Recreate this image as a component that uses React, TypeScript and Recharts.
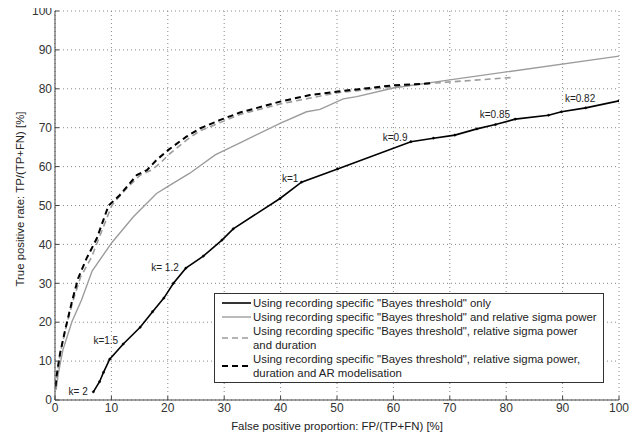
import React from "react";
import { LineChart, Line, XAxis, YAxis, CartesianGrid, Legend, ReferenceDot } from "recharts";

const xTicks = [0, 10, 20, 30, 40, 50, 60, 70, 80, 90, 100];
const yTicks = [0, 10, 20, 30, 40, 50, 60, 70, 80, 90, 100];

const bayesX = [6.8, 7.9, 8.6, 9.7, 12.1, 15.1, 17.3, 19.3, 21.0, 23.2, 26.3, 29.6, 31.6, 39.9, 43.7, 50.1, 63.1, 67.1, 70.9, 74.8, 78.1, 81.6, 87.5, 89.8, 94.1, 100];
const bayesY = [2.1, 4.7, 7.1, 10.5, 14.4, 18.7, 22.7, 26.2, 30.0, 33.9, 37.0, 41.1, 44.0, 51.8, 56.0, 59.4, 66.4, 67.3, 68.1, 69.7, 70.8, 72.2, 73.2, 74.1, 75.1, 76.9];

const sigmaX = [0.2, 0.6, 1.4, 3.0, 4.7, 6.6, 10.1, 13.9, 18.0, 20.1, 23.9, 28.4, 32.8, 39.9, 44.6, 47.0, 51.1, 53.5, 60.0, 70.0, 100];
const sigmaY = [2.6, 6.9, 12.9, 20.1, 25.7, 33.2, 40.5, 47.1, 53.1, 55.0, 58.3, 63.0, 66.1, 71.1, 74.1, 74.7, 77.4, 78.0, 80.2, 82.3, 88.4];

const durX = [0.1, 0.5, 1.0, 2.0, 3.2, 4.5, 6.5, 10.1, 12.7, 15.1, 17.1, 18.6, 20.1, 23.3, 25.7, 32.8, 39.9, 50.1, 60.0, 66.5, 81.0];
const durY = [3.0, 8.0, 12.5, 19.0, 25.5, 31.5, 36.8, 50.1, 54.4, 57.8, 59.1, 60.8, 63.0, 66.8, 69.2, 73.4, 76.1, 79.0, 80.5, 81.4, 82.9];

const arX = [0.1, 0.3, 0.9, 1.8, 3.0, 4.1, 5.6, 7.4, 9.5, 11.5, 14.5, 16.3, 18.0, 20.1, 23.3, 25.7, 29.3, 32.8, 39.9, 45.2, 50.1, 60.0, 66.5];
const arY = [3.5, 6.4, 12.0, 18.0, 25.3, 31.3, 36.4, 41.5, 50.0, 52.7, 57.8, 59.1, 61.7, 64.3, 67.7, 69.8, 72.0, 73.9, 76.7, 78.4, 79.3, 80.9, 81.4];

const kText = ["k= 2", "k=1.5", "k= 1.2", "k=1", "k=0.9", "k=0.85", "k=0.82"];
const kX = [4.1, 9.0, 19.5, 41.7, 60.3, 78.0, 93.1];
const kY = [2.1, 15.2, 34.1, 57.0, 67.4, 73.5, 77.4];

const seriesNames = [
  'Using recording specific "Bayes threshold" only',
  'Using recording specific "Bayes threshold" and relative sigma power',
  'Using recording specific "Bayes threshold", relative sigma power and duration',
  'Using recording specific "Bayes threshold", relative sigma power, duration and AR modelisation',
];

const zip = (xs: number[], ys: number[]) => xs.map((x, i) => ({ x, y: ys[i] }));
const bayesData = zip(bayesX, bayesY);
const sigmaData = zip(sigmaX, sigmaY);
const durData = zip(durX, durY);
const arData = zip(arX, arY);

const FONT = "Arial, 'Liberation Sans', sans-serif";
const GREY = "#9c9c9c";

const legendRows = [
  { color: "#000", dash: undefined as string | undefined, width: 1.6, lines: ['Using recording specific "Bayes threshold" only'] },
  { color: GREY, dash: undefined, width: 1.4, lines: ['Using recording specific "Bayes threshold" and relative sigma power'] },
  { color: GREY, dash: "6 4", width: 1.6, lines: ['Using recording specific "Bayes threshold", relative sigma power', "and duration"] },
  { color: "#000", dash: "6 4", width: 2, lines: ['Using recording specific "Bayes threshold", relative sigma power,', "duration and AR modelisation"] },
];

const LegendBox = () => (
  <div
    style={{
      width: 388,
      height: 88,
      border: "1px solid #333",
      background: "#fff",
      boxSizing: "content-box",
      fontFamily: FONT,
      fontSize: 11.4,
      color: "#222",
    }}
  >
    <div style={{ paddingTop: 2 }}>
      {legendRows.map((r, i) => (
        <div key={i} style={{ display: "flex", alignItems: "center", height: r.lines.length * 14 }}>
          <svg width={38} height={8} style={{ flex: "none" }}>
            <line x1={7} x2={36} y1={4} y2={4} stroke={r.color} strokeWidth={r.width} strokeDasharray={r.dash} />
          </svg>
          <div style={{ lineHeight: "14px", whiteSpace: "nowrap" }}>
            {r.lines.map((t, j) => (
              <div key={j}>{t}</div>
            ))}
          </div>
        </div>
      ))}
    </div>
  </div>
);

export default function App() {
  return (
    <div style={{ position: "relative", margin: "-8px 0 0 -8px", width: 641, height: 434, background: "#fff" }}>
      <LineChart width={641} height={434} margin={{ top: 11, right: 22, bottom: 0, left: 0 }}>
        <CartesianGrid stroke="#888" strokeDasharray="1 3" strokeWidth={1} />
        <XAxis
          type="number"
          dataKey="x"
          domain={[0, 100]}
          ticks={xTicks}
          height={34}
          stroke="#444"
          tickSize={-4}
          tickMargin={7}
          tick={{ fill: "#333", fontSize: 12, fontFamily: FONT }}
          allowDataOverflow
          label={{
            content: () => (
              <text x={337} y={430} textAnchor="middle" fontSize={11.4} fontFamily={FONT} fill="#222">
                False positive proportion: FP/(TP+FN) [%]
              </text>
            ),
          }}
        />
        <YAxis
          type="number"
          dataKey="y"
          domain={[0, 100]}
          ticks={yTicks}
          width={55}
          stroke="#444"
          tickSize={-4}
          tickMargin={7}
          tick={{ fill: "#333", fontSize: 12, fontFamily: FONT }}
          allowDataOverflow
          label={{
            content: () => (
              <text x={24} y={199} transform="rotate(-90 24 199)" textAnchor="middle" fontSize={11.4} fontFamily={FONT} fill="#222">
                True positive rate: TP/(TP+FN) [%]
              </text>
            ),
          }}
        />
        <Line data={sigmaData} dataKey="y" name={seriesNames[1]} stroke={GREY} strokeWidth={1.4} dot={false} isAnimationActive={false} />
        <Line data={durData} dataKey="y" name={seriesNames[2]} stroke={GREY} strokeWidth={1.6} strokeDasharray="6 4" dot={false} isAnimationActive={false} />
        <Line data={arData} dataKey="y" name={seriesNames[3]} stroke="#000" strokeWidth={2} strokeDasharray="6 4" dot={false} isAnimationActive={false} />
        <Line data={bayesData} dataKey="y" name={seriesNames[0]} stroke="#000" strokeWidth={1.6} dot={{ r: 1.1, fill: "#000", stroke: "#000", strokeWidth: 0.5 }} isAnimationActive={false} />
        {kText.map((t, i) => (
          <ReferenceDot
            key={t}
            x={kX[i]}
            y={kY[i]}
            r={0}
            fill="none"
            stroke="none"
            ifOverflow="visible"
            label={{ value: t, position: "center", fontSize: 10, fontFamily: FONT, fill: "#222" }}
          />
        ))}
        <Legend
          layout="vertical"
          align="center"
          verticalAlign="middle"
          content={() => <LegendBox />}
          wrapperStyle={{ left: 214, top: 293, width: 390, height: 90 }}
        />
      </LineChart>
    </div>
  );
}
